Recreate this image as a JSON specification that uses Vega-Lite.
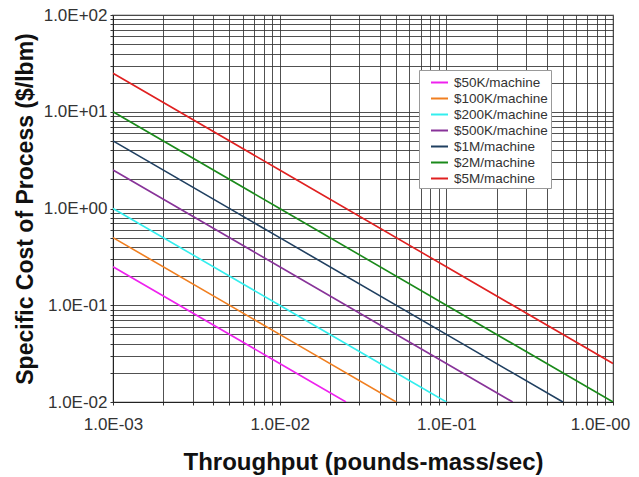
{
  "$schema": "https://vega.github.io/schema/vega-lite/v6.json",
  "autosize": "none",
  "width": 500,
  "height": 387,
  "padding": {"left": 113, "top": 15, "right": 26, "bottom": 75},
  "config": {
    "font": "Liberation Sans",
    "view": {"stroke": "#cccccc", "strokeWidth": 2}
  },
  "data": {
    "values": [
      {"series": "$50K/machine", "x": 0.001, "y": 0.25},
      {"series": "$50K/machine", "x": 0.01, "y": 0.025},
      {"series": "$50K/machine", "x": 0.025, "y": 0.01},
      {"series": "$100K/machine", "x": 0.001, "y": 0.5},
      {"series": "$100K/machine", "x": 0.01, "y": 0.05},
      {"series": "$100K/machine", "x": 0.05, "y": 0.01},
      {"series": "$200K/machine", "x": 0.001, "y": 1},
      {"series": "$200K/machine", "x": 0.01, "y": 0.1},
      {"series": "$200K/machine", "x": 0.1, "y": 0.01},
      {"series": "$500K/machine", "x": 0.001, "y": 2.5},
      {"series": "$500K/machine", "x": 0.01, "y": 0.25},
      {"series": "$500K/machine", "x": 0.1, "y": 0.025},
      {"series": "$500K/machine", "x": 0.25, "y": 0.01},
      {"series": "$1M/machine", "x": 0.001, "y": 5},
      {"series": "$1M/machine", "x": 0.01, "y": 0.5},
      {"series": "$1M/machine", "x": 0.1, "y": 0.05},
      {"series": "$1M/machine", "x": 0.5, "y": 0.01},
      {"series": "$2M/machine", "x": 0.001, "y": 10},
      {"series": "$2M/machine", "x": 0.01, "y": 1},
      {"series": "$2M/machine", "x": 0.1, "y": 0.1},
      {"series": "$2M/machine", "x": 1, "y": 0.01},
      {"series": "$5M/machine", "x": 0.001, "y": 25},
      {"series": "$5M/machine", "x": 0.01, "y": 2.5},
      {"series": "$5M/machine", "x": 0.1, "y": 0.25},
      {"series": "$5M/machine", "x": 1, "y": 0.025}
    ]
  },
  "mark": {"type": "line", "strokeWidth": 1.6, "clip": true},
  "encoding": {
    "x": {
      "field": "x",
      "type": "quantitative",
      "scale": {"type": "log", "domain": [0.001, 1], "nice": false},
      "axis": {
        "title": "Throughput (pounds-mass/sec)",
        "titleFontSize": 24,
        "titleFontWeight": "bold",
        "titleColor": "#111111",
        "titlePadding": 18,
        "values": [0.001,0.002,0.003,0.004,0.005,0.006,0.007,0.008,0.009,0.01,0.02,0.03,0.04,0.05,0.06,0.07,0.08,0.09,0.1,0.2,0.3,0.4,0.5,0.6,0.7,0.8,0.9,1],
        "labelExpr": "datum.value==0.001?'1.0E-03':datum.value==0.01?'1.0E-02':datum.value==0.1?'1.0E-01':datum.value==1?'1.0E-00':''",
        "labelOffset": {"expr": "datum.value==1 ? -13 : 0"},
        "labelOverlap": false,
        "labelBound": false,
        "labelFlush": false,
        "labelFontSize": 17,
        "labelColor": "#333333",
        "labelPadding": 11,
        "grid": true,
        "gridColor": "#333333",
        "gridOpacity": 0.85,
        "gridWidth": 1,
        "ticks": true,
        "tickSize": 3,
        "tickColor": "#333333",
        "domainColor": "#222222"
      }
    },
    "y": {
      "field": "y",
      "type": "quantitative",
      "scale": {"type": "log", "domain": [0.01, 100], "nice": false},
      "axis": {
        "title": "Specific Cost of Process ($/lbm)",
        "titleFontSize": 23,
        "titleFontWeight": "bold",
        "titleColor": "#111111",
        "titlePadding": 6,
        "values": [0.01,0.02,0.03,0.04,0.05,0.06,0.07,0.08,0.09,0.1,0.2,0.3,0.4,0.5,0.6,0.7,0.8,0.9,1,2,3,4,5,6,7,8,9,10,20,30,40,50,60,70,80,90,100],
        "labelExpr": "datum.value==0.01?'1.0E-02':datum.value==0.1?'1.0E-01':datum.value==1?'1.0E+00':datum.value==10?'1.0E+01':datum.value==100?'1.0E+02':''",
        "labelOverlap": false,
        "labelBound": false,
        "labelFlush": false,
        "labelFontSize": 17,
        "labelColor": "#333333",
        "labelPadding": 3,
        "grid": true,
        "gridColor": "#333333",
        "gridOpacity": 0.85,
        "gridWidth": 1,
        "ticks": true,
        "tickSize": 3,
        "tickColor": "#333333",
        "domainColor": "#222222"
      }
    },
    "color": {
      "field": "series",
      "type": "nominal",
      "scale": {
        "domain": ["$50K/machine","$100K/machine","$200K/machine","$500K/machine","$1M/machine","$2M/machine","$5M/machine"],
        "range": ["#ee22ee","#f07f20","#33eeee","#883399","#1f3f60","#1a8a1a","#e02020"]
      },
      "legend": {
        "title": null,
        "orient": "none",
        "legendX": 306,
        "legendY": 55,
        "fillColor": "#ffffff",
        "strokeColor": "#999999",
        "padding": 3,
        "labelFontSize": 13.5,
        "labelColor": "#333333",
        "labelOffset": 5,
        "symbolType": "stroke",
        "symbolSize": 289,
        "symbolOffset": 8,
        "symbolStrokeWidth": 2,
        "rowPadding": 0,
        "offset": 0
      }
    }
  }
}
